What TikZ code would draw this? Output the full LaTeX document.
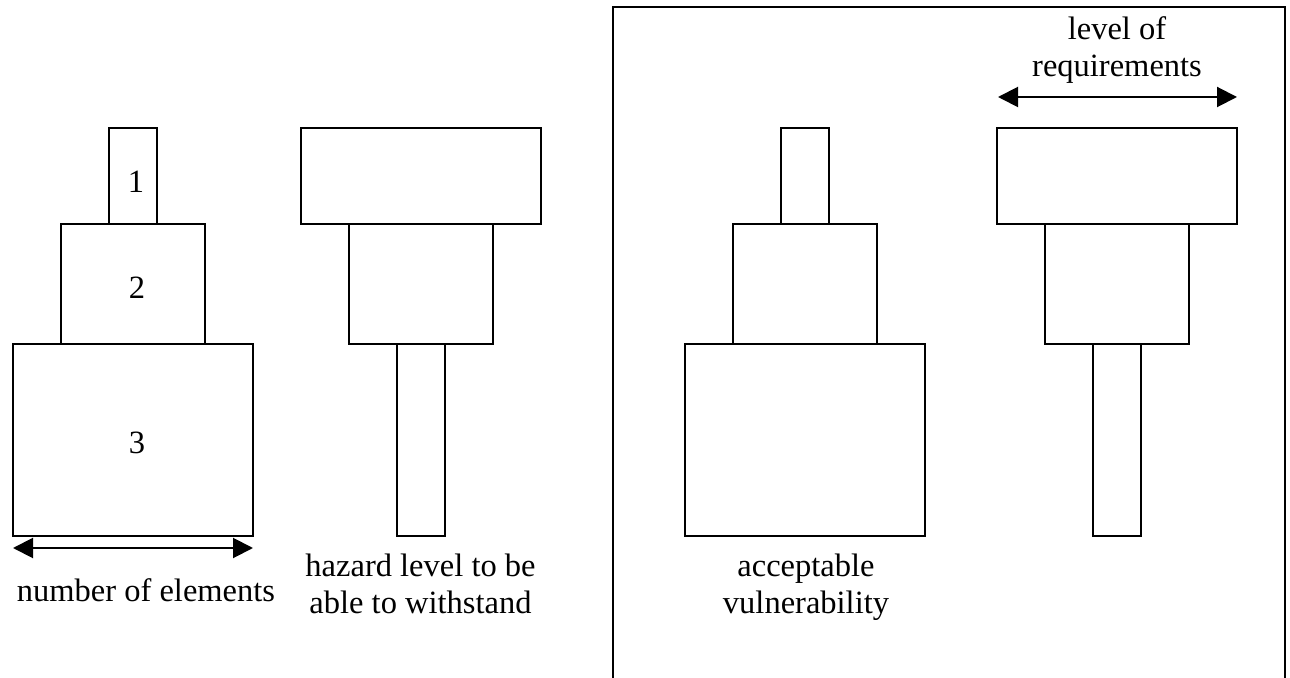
\documentclass[tikz,border=0pt]{standalone}
\usepackage{fontspec}
\setmainfont{Liberation Serif}
\usetikzlibrary{arrows.meta}

\tikzset{
  dimarrow/.style={{Triangle[length=10pt,width=10pt]}-{Triangle[length=10pt,width=10pt]}, line width=1pt},
  lbl/.style={font=\fontsize{16.25}{18.5}\selectfont, align=center, inner sep=0pt}
}

\begin{document}
\begin{tikzpicture}[x=0.5pt,y=-0.5pt,line width=1pt]
\useasboundingbox (0,0) rectangle (1290,678);

% elements stack
\draw (109,128) rectangle (157,224);
\draw (61,224) rectangle (205,344);
\draw (13,344) rectangle (253,536);
\node[lbl] (one) at (136,182) {1};
\node[lbl] (two) at (137,288) {2};
\node[lbl] (three) at (137,443) {3};

\coordinate (numL) at (13,548);
\coordinate (numR) at (253,548);
\draw[dimarrow] (numL) -- (numR);
\node[lbl] (number) at (146,590) {number of elements};

% hazard stack
\draw (301,128) rectangle (541,224);
\draw (349,224) rectangle (493,344);
\draw (397,344) rectangle (445,536);
\node[lbl] (hazard) at (420.5,584) {hazard level to be\\able to withstand};

% frame
\draw (613,690) -- (613,7.5) -- (1285,7.5) -- (1285,690);

% vulnerability stack
\draw (781,128) rectangle (829,224);
\draw (733,224) rectangle (877,344);
\draw (685,344) rectangle (925,536);
\node[lbl] (accept) at (806,587) {acceptable\\vulnerability};

% requirements stack
\draw (997,128) rectangle (1237,224);
\draw (1045,224) rectangle (1189,344);
\draw (1093,344) rectangle (1141,536);

\coordinate (reqL) at (998,97);
\coordinate (reqR) at (1237,97);
\draw[dimarrow] (reqL) -- (reqR);
\node[lbl] (level) at (1117,50) {level of\\requirements};
\end{tikzpicture}
\end{document}
